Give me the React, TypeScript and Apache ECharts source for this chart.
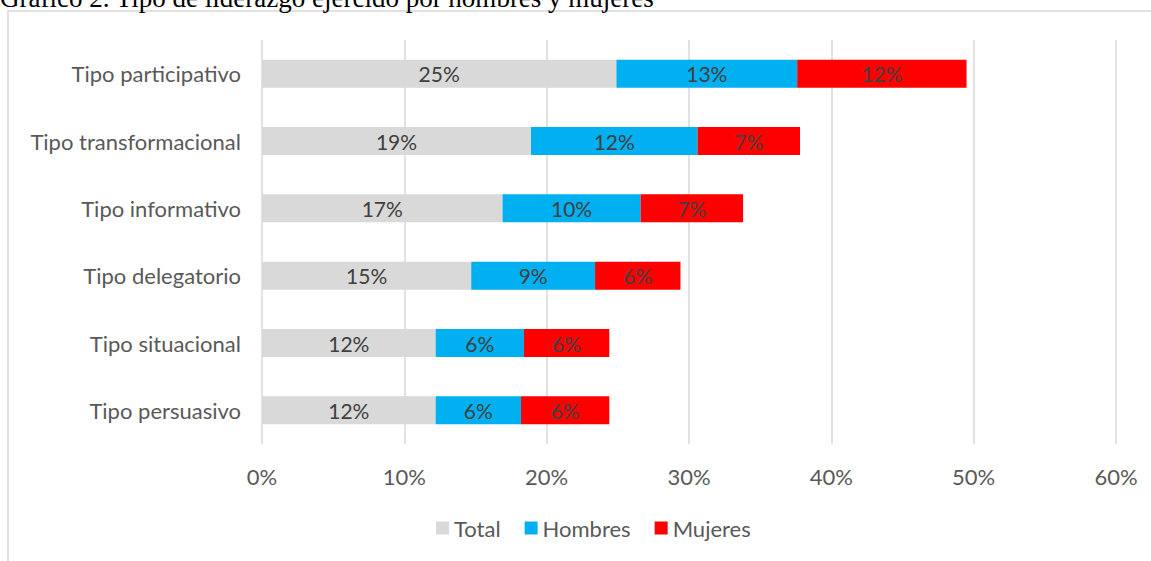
import React, { useEffect, useRef } from "react";
import * as echarts from "echarts";

const categories = [
  "Tipo participativo",
  "Tipo transformacional",
  "Tipo informativo",
  "Tipo delegatorio",
  "Tipo situacional",
  "Tipo persuasivo",
];
const totalValues = [24.9, 18.9, 16.9, 14.7, 12.2, 12.2];
const hombresValues = [12.7, 11.7, 9.7, 8.7, 6.2, 6.0];
const mujeresValues = [11.9, 7.2, 7.2, 6.0, 6.0, 6.2];
const xTicks = [0, 10, 20, 30, 40, 50, 60];
const titleText = "Gráfico 2. Tipo de liderazgo ejercido por hombres y mujeres";

const FONT = "Lato, 'Open Sans', sans-serif";
const FS = 22;

export default function App() {
  const ref = useRef<HTMLDivElement>(null);
  useEffect(() => {
    if (!ref.current) return;
    const chart = echarts.init(ref.current, undefined, { renderer: "svg" });
    const mkSeries = (name: string, data: number[], color: string) => ({
      name,
      type: "bar",
      stack: "s",
      data,
      barWidth: 28,
      itemStyle: { color },
      label: {
        show: true,
        position: "inside",
        formatter: (p: any) => Math.round(p.value) + "%",
        color: "#404040",
        fontSize: 21,
        fontFamily: FONT,
      },
      emphasis: { disabled: true },
    });
    chart.setOption({
      animation: false,
      backgroundColor: "#ffffff",
      grid: { left: 262, right: 35, top: 40, bottom: 117, containLabel: false },
      xAxis: {
        type: "value",
        min: 0,
        max: xTicks[xTicks.length - 1],
        interval: 10,
        axisLine: { show: false },
        axisTick: { show: false },
        splitLine: { show: true, lineStyle: { color: "#d9d9d9", width: 1.5 } },
        axisLabel: {
          formatter: (v: number) => v + "%",
          color: "#595959",
          fontSize: FS,
          fontFamily: FONT,
          margin: 21,
        },
      },
      yAxis: {
        type: "category",
        data: categories,
        inverse: true,
        axisLine: { show: false },
        axisTick: { show: false },
        axisLabel: {
          color: "#595959",
          fontSize: FS,
          fontFamily: FONT,
          margin: 21,
        },
      },
      legend: {
        left: 431,
        top: 512,
        itemWidth: 13,
        itemHeight: 13,
        itemGap: 24,
        icon: "rect",
        textStyle: { color: "#595959", fontSize: FS, fontFamily: FONT },
        data: ["Total", "Hombres", "Mujeres"],
      },
      graphic: [
        {
          type: "rect",
          shape: { x: 8, y: 11, width: 1300, height: 700 },
          style: { fill: "none", stroke: "#d9d9d9", lineWidth: 1.5 },
          silent: true,
        },
        {
          type: "text",
          x: 0,
          y: -2,
          style: {
            text: titleText,
            font: "27px 'Liberation Serif', serif",
            fill: "#000000",
            verticalAlign: "middle",
            align: "left",
          },
          silent: true,
        },
      ],
      series: [
        mkSeries("Total", totalValues, "#d9d9d9"),
        mkSeries("Hombres", hombresValues, "#00b0f0"),
        mkSeries("Mujeres", mujeresValues, "#ff0000"),
      ],
    });
    return () => chart.dispose();
  }, []);
  return (
    <div
      ref={ref}
      style={{ position: "absolute", left: 0, top: 0, width: 1151, height: 561 }}
    />
  );
}
